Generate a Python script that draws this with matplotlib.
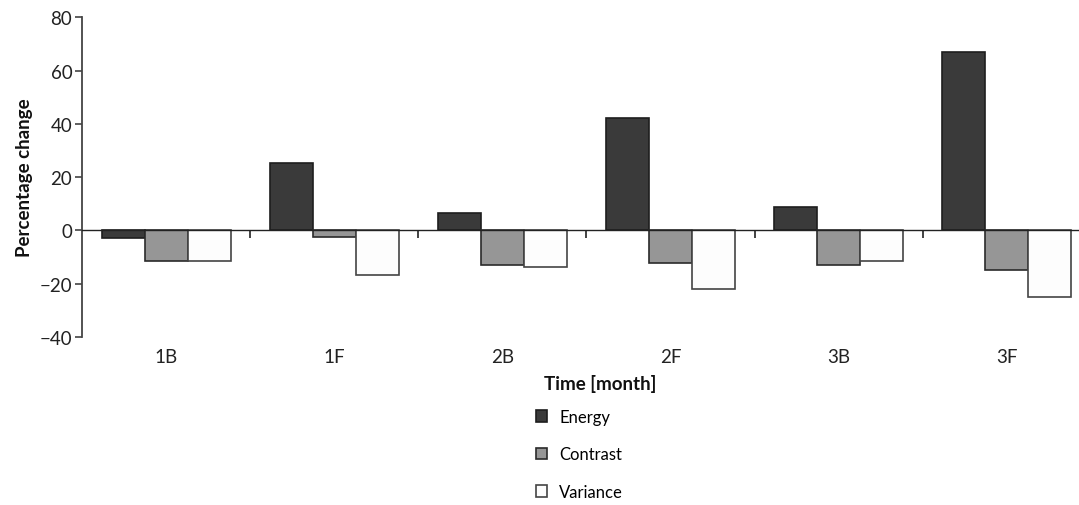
import numpy as np
import matplotlib.pyplot as plt
from matplotlib.ticker import FixedLocator

plt.rcParams['font.family'] = ['Lato', 'DejaVu Sans']

months = ['1B', '1F', '2B', '2F', '3B', '3F']
energy = [-2.8, 25.4, 6.4, 42.3, 8.8, 66.9]
contrast = [-11.5, -2.5, -12.8, -12.3, -13.0, -14.9]
variance = [-11.5, -16.9, -13.9, -22.1, -11.6, -24.8]

fig = plt.figure(figsize=(10.79, 5.06), dpi=100)
ax = fig.add_axes([0.076, 0.332, 0.924, 0.632])

x = np.arange(len(months))
w = 0.256
ax.bar(x - w, energy, w, color='#3a3a3a', edgecolor='#1e1e1e', linewidth=1.2, label='Energy')
ax.bar(x, contrast, w, color='#969696', edgecolor='#2a2a2a', linewidth=1.2, label='Contrast')
ax.bar(x + w, variance, w, color='#fdfdfd', edgecolor='#444444', linewidth=1.2, label='Variance')

ax.set_xlim(-0.5, 5.43)
ax.set_ylim(-40, 80)
ax.set_yticks(range(-40, 81, 20))
ax.set_yticklabels(['\u221240', '\u221220', '0', '20', '40', '60', '80'])

for s in ['top', 'right']:
    ax.spines[s].set_visible(False)
ax.spines['left'].set_color('#444444')
ax.spines['left'].set_linewidth(1.3)
ax.spines['bottom'].set_position(('data', 0))
ax.spines['bottom'].set_color('#222222')
ax.spines['bottom'].set_linewidth(1.0)

ax.set_xticks(x)
ax.set_xticklabels(months)
ax.xaxis.set_minor_locator(FixedLocator(x[:-1] + 0.5))
ax.tick_params(axis='x', which='major', length=0, pad=85, labelsize=13.5, colors='#222222')
ax.tick_params(axis='x', which='minor', length=6, width=1.2, direction='out', color='#222222')
ax.tick_params(axis='y', length=5, width=1.2, color='#444444', labelsize=13.5, labelcolor='#222222', pad=2)

ax.set_ylabel('Percentage change', fontsize=13.5, fontweight='bold', color='#111111', labelpad=5)
ax.set_xlabel('Time [month]', fontsize=13.5, fontweight='bold', color='#111111')
ax.xaxis.set_label_coords(0.52, -0.116)

fig.legend(loc='center', bbox_to_anchor=(0.537, 0.1), frameon=False, fontsize=12,
           handlelength=0.7, handleheight=0.7, handletextpad=0.7, labelspacing=1.3)

fig.savefig('out.png', dpi=100)
